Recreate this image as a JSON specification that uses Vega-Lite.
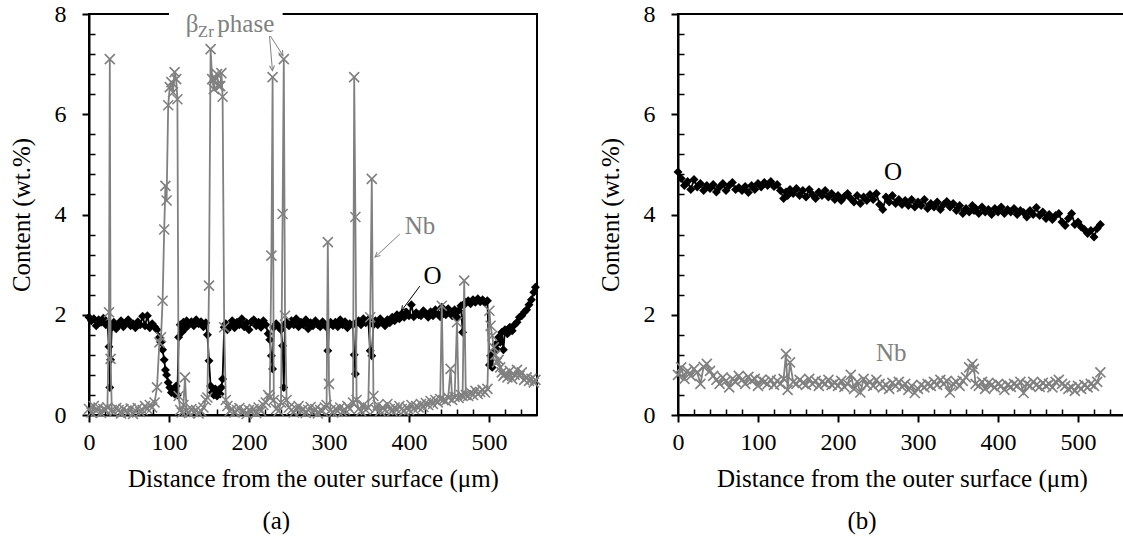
{
  "$schema": "https://vega.github.io/schema/vega-lite/v6.json",
  "background": "white",
  "padding": {"left": 8, "top": 1, "right": 0, "bottom": 0},
  "config": {
    "font": "Liberation Serif, Times New Roman, serif",
    "axis": {"labelFont": "Liberation Serif, Times New Roman, serif", "titleFont": "Liberation Serif, Times New Roman, serif"},
    "text": {"font": "Liberation Serif, Times New Roman, serif"},
    "view": {"stroke": "black", "strokeWidth": 2},
    "title": {"font": "Liberation Serif, Times New Roman, serif", "fontSize": 25, "fontWeight": "normal", "color": "black"}
  },
  "spacing": 52,
  "datasets": {
    "a": [
      {"d":0,"O":1.95,"Nb":0.12},{"d":3,"O":1.88,"Nb":0.05},{"d":6,"O":1.92,"Nb":0.18},{"d":9,"O":1.78,"Nb":0.08},{"d":12,"O":1.9,"Nb":0.15},{"d":15,"O":1.85,"Nb":0.04},{"d":18,"O":1.93,"Nb":0.12},{"d":21,"O":1.8,"Nb":0.1},{"d":23,"O":1.82,"Nb":0.15},{"d":25,"O":1.36,"Nb":2.05},{"d":26,"O":0.55,"Nb":7.1},{"d":27,"O":1.1,"Nb":1.12},{"d":28.5,"O":1.75,"Nb":0.1},
      {"d":31,"O":1.85,"Nb":0.06},{"d":34,"O":1.72,"Nb":0.14},{"d":37,"O":1.8,"Nb":0.1},{"d":40,"O":1.88,"Nb":0.03},{"d":43,"O":1.76,"Nb":0.12},{"d":46,"O":1.84,"Nb":0.08},{"d":49,"O":1.9,"Nb":0.05},{"d":52,"O":1.78,"Nb":0.13},{"d":55,"O":1.82,"Nb":0.02},{"d":58,"O":1.74,"Nb":0.09},{"d":61,"O":1.86,"Nb":0.14},{"d":64,"O":1.8,"Nb":0.06},{"d":67,"O":1.97,"Nb":0.1},{"d":70,"O":1.78,"Nb":0.18},{"d":73,"O":1.98,"Nb":0.12},{"d":76,"O":1.74,"Nb":0.2},{"d":79,"O":1.82,"Nb":0.15},{"d":82,"O":1.76,"Nb":0.25},
      {"d":85,"O":1.7,"Nb":0.55},{"d":88,"O":1.55,"Nb":1.45},{"d":90,"O":1.45,"Nb":1.55},{"d":92,"O":1.3,"Nb":2.28},{"d":94,"O":1.1,"Nb":3.7},{"d":95.5,"O":0.9,"Nb":4.57},{"d":97,"O":0.8,"Nb":4.28},{"d":99,"O":0.65,"Nb":6.18},{"d":101,"O":0.55,"Nb":6.54},{"d":103,"O":0.45,"Nb":6.64},{"d":105,"O":0.5,"Nb":6.44},{"d":107,"O":0.42,"Nb":6.84},{"d":109,"O":0.58,"Nb":6.7},{"d":110.5,"O":0.4,"Nb":6.3},{"d":112,"O":1.55,"Nb":0.38},
      {"d":114,"O":1.8,"Nb":0.1},{"d":116,"O":1.65,"Nb":0.05},{"d":118,"O":1.85,"Nb":0.2},{"d":120,"O":1.72,"Nb":0.75},{"d":122,"O":1.88,"Nb":0.08},{"d":125,"O":1.8,"Nb":0.04},{"d":128,"O":1.86,"Nb":0.12},{"d":131,"O":1.78,"Nb":0.06},{"d":134,"O":1.9,"Nb":0.1},{"d":137,"O":1.82,"Nb":0.03},{"d":140,"O":1.86,"Nb":0.08},{"d":143,"O":1.76,"Nb":0.15},{"d":146,"O":1.84,"Nb":0.3},{"d":148,"O":1.6,"Nb":0.35},
      {"d":150,"O":1.08,"Nb":2.58},{"d":152,"O":0.58,"Nb":7.3},{"d":154,"O":0.45,"Nb":6.7},{"d":156,"O":0.4,"Nb":6.5},{"d":158,"O":0.52,"Nb":6.72},{"d":160,"O":0.38,"Nb":6.8},{"d":162,"O":0.5,"Nb":6.56},{"d":164,"O":0.42,"Nb":6.56},{"d":165.5,"O":0.55,"Nb":6.82},{"d":167,"O":0.72,"Nb":6.35},{"d":169,"O":1.75,"Nb":1.75},
      {"d":171,"O":1.82,"Nb":0.3},{"d":173,"O":1.7,"Nb":0.18},{"d":176,"O":1.78,"Nb":0.08},{"d":179,"O":1.88,"Nb":0.12},{"d":182,"O":1.74,"Nb":0.05},{"d":185,"O":1.85,"Nb":0.1},{"d":188,"O":1.8,"Nb":0.14},{"d":191,"O":1.92,"Nb":0.06},{"d":194,"O":1.76,"Nb":0.09},{"d":197,"O":1.84,"Nb":0.02},{"d":200,"O":1.7,"Nb":0.1},{"d":203,"O":1.86,"Nb":0.07},{"d":206,"O":1.9,"Nb":0.12},{"d":209,"O":1.78,"Nb":0.04},{"d":212,"O":1.85,"Nb":0.15},{"d":215,"O":1.75,"Nb":0.08},{"d":218,"O":1.88,"Nb":0.2},{"d":221,"O":1.8,"Nb":0.25},{"d":224,"O":1.62,"Nb":0.4},
      {"d":226,"O":1.5,"Nb":0.35},{"d":228,"O":1.18,"Nb":3.18},{"d":229.5,"O":0.92,"Nb":6.74},{"d":231,"O":1.75,"Nb":0.3},{"d":234,"O":1.82,"Nb":0.12},{"d":237,"O":1.76,"Nb":0.08},{"d":240,"O":1.7,"Nb":0.25},{"d":242,"O":1.38,"Nb":4.01},{"d":243.5,"O":0.55,"Nb":7.1},{"d":245,"O":1.8,"Nb":1.98},{"d":247,"O":1.85,"Nb":0.3},
      {"d":250,"O":1.78,"Nb":0.15},{"d":253,"O":1.88,"Nb":0.1},{"d":256,"O":1.8,"Nb":0.05},{"d":259,"O":1.92,"Nb":0.12},{"d":262,"O":1.76,"Nb":0.18},{"d":265,"O":1.85,"Nb":0.08},{"d":268,"O":1.8,"Nb":0.12},{"d":271,"O":1.9,"Nb":0.04},{"d":274,"O":1.72,"Nb":0.1},{"d":277,"O":1.84,"Nb":0.16},{"d":280,"O":1.78,"Nb":0.06},{"d":283,"O":1.88,"Nb":0.12},{"d":286,"O":1.8,"Nb":0.03},{"d":289,"O":1.76,"Nb":0.1},{"d":292,"O":1.86,"Nb":0.08},{"d":295,"O":1.8,"Nb":0.15},
      {"d":297,"O":1.75,"Nb":0.2},{"d":298.5,"O":1.28,"Nb":3.45},{"d":300,"O":1.8,"Nb":0.62},{"d":302,"O":1.85,"Nb":0.1},{"d":305,"O":1.78,"Nb":0.05},{"d":308,"O":1.85,"Nb":0.12},{"d":311,"O":1.76,"Nb":0.08},{"d":314,"O":1.9,"Nb":0.15},{"d":317,"O":1.8,"Nb":0.06},{"d":320,"O":1.86,"Nb":0.1},{"d":323,"O":1.74,"Nb":0.18},{"d":326,"O":1.82,"Nb":0.12},
      {"d":330,"O":1.8,"Nb":0.25},{"d":331.5,"O":1.2,"Nb":6.74},{"d":333,"O":0.82,"Nb":3.95},{"d":334.5,"O":1.85,"Nb":0.3},{"d":337,"O":1.88,"Nb":0.12},{"d":340,"O":1.8,"Nb":0.08},{"d":343,"O":1.92,"Nb":0.2},{"d":346,"O":1.84,"Nb":0.1},{"d":349,"O":1.9,"Nb":0.15},{"d":351.5,"O":1.28,"Nb":1.95},{"d":353.5,"O":1.18,"Nb":4.71},{"d":355.5,"O":1.8,"Nb":0.38},
      {"d":358,"O":1.88,"Nb":0.12},{"d":361,"O":1.8,"Nb":0.2},{"d":364,"O":1.92,"Nb":0.08},{"d":367,"O":1.85,"Nb":0.15},{"d":370,"O":1.78,"Nb":0.1},{"d":373,"O":1.9,"Nb":0.22},{"d":376,"O":1.84,"Nb":0.12},{"d":379,"O":1.95,"Nb":0.08},{"d":382,"O":1.88,"Nb":0.15},{"d":385,"O":2.0,"Nb":0.1},{"d":388,"O":1.92,"Nb":0.18},{"d":391,"O":2.02,"Nb":0.12},{"d":394,"O":1.95,"Nb":0.08},{"d":397,"O":2.05,"Nb":0.15},{"d":400,"O":1.98,"Nb":0.1},{"d":403,"O":2.2,"Nb":0.2},{"d":406,"O":1.96,"Nb":0.12},{"d":409,"O":2.04,"Nb":0.18},{"d":412,"O":2.0,"Nb":0.15},{"d":415,"O":1.98,"Nb":0.22},{"d":418,"O":2.08,"Nb":0.16},{"d":421,"O":2.02,"Nb":0.24},{"d":424,"O":1.95,"Nb":0.2},{"d":427,"O":2.06,"Nb":0.28},{"d":430,"O":1.98,"Nb":0.22},{"d":433,"O":2.1,"Nb":0.3},{"d":436,"O":2.02,"Nb":0.25},{"d":439,"O":1.96,"Nb":0.32},
      {"d":441,"O":2.15,"Nb":2.18},{"d":443,"O":2.05,"Nb":0.3},{"d":446,"O":2.0,"Nb":0.28},{"d":449,"O":2.12,"Nb":0.35},{"d":452,"O":2.05,"Nb":0.92},{"d":454,"O":1.98,"Nb":0.3},{"d":457,"O":2.1,"Nb":0.36},{"d":460,"O":1.95,"Nb":1.85},{"d":462,"O":2.08,"Nb":0.34},{"d":465,"O":2.18,"Nb":0.4},{"d":467,"O":1.65,"Nb":0.38},{"d":469,"O":2.2,"Nb":2.68},{"d":471,"O":2.25,"Nb":0.4},
      {"d":474,"O":2.28,"Nb":0.38},{"d":477,"O":2.22,"Nb":0.45},{"d":480,"O":2.3,"Nb":0.4},{"d":483,"O":2.25,"Nb":0.48},{"d":486,"O":2.32,"Nb":0.42},{"d":489,"O":2.26,"Nb":0.46},{"d":492,"O":2.3,"Nb":0.5},{"d":495,"O":2.24,"Nb":0.45},{"d":498,"O":2.28,"Nb":0.52},
      {"d":500.5,"O":1.0,"Nb":2.08},{"d":502,"O":1.18,"Nb":1.78},{"d":504,"O":0.95,"Nb":1.58},{"d":506,"O":1.25,"Nb":1.35},{"d":508,"O":1.4,"Nb":1.2},{"d":510,"O":1.3,"Nb":1.05},{"d":512,"O":1.55,"Nb":1.1},{"d":514,"O":1.45,"Nb":0.95},{"d":516,"O":1.65,"Nb":0.85},{"d":518,"O":1.3,"Nb":0.78},{"d":520,"O":1.7,"Nb":0.82},{"d":523,"O":1.62,"Nb":0.75},{"d":526,"O":1.75,"Nb":0.88},{"d":529,"O":1.68,"Nb":0.72},{"d":532,"O":1.8,"Nb":0.8},{"d":535,"O":1.85,"Nb":0.9},{"d":538,"O":1.95,"Nb":0.78},{"d":541,"O":1.98,"Nb":0.85},{"d":544,"O":2.05,"Nb":0.7},{"d":547,"O":2.1,"Nb":0.75},{"d":550,"O":2.2,"Nb":0.68},{"d":553,"O":2.3,"Nb":0.72},{"d":556,"O":2.45,"Nb":0.65},{"d":558,"O":2.55,"Nb":0.7}
    ],
    "b": [
      {"d":0,"O":4.85,"Nb":0.8},{"d":4,"O":4.72,"Nb":0.95},{"d":8,"O":4.58,"Nb":0.72},{"d":12,"O":4.66,"Nb":0.88},{"d":16,"O":4.5,"Nb":0.78},{"d":20,"O":4.7,"Nb":0.92},{"d":24,"O":4.55,"Nb":0.85},{"d":28,"O":4.62,"Nb":0.62},{"d":32,"O":4.48,"Nb":0.96},{"d":36,"O":4.58,"Nb":1.02},{"d":40,"O":4.52,"Nb":0.88},{"d":44,"O":4.6,"Nb":0.78},{"d":48,"O":4.45,"Nb":0.7},{"d":52,"O":4.55,"Nb":0.62},{"d":56,"O":4.62,"Nb":0.75},{"d":60,"O":4.48,"Nb":0.68},{"d":64,"O":4.58,"Nb":0.55},{"d":68,"O":4.64,"Nb":0.72},{"d":72,"O":4.5,"Nb":0.66},{"d":76,"O":4.54,"Nb":0.78},{"d":80,"O":4.48,"Nb":0.7},{"d":84,"O":4.56,"Nb":0.62},{"d":88,"O":4.44,"Nb":0.76},{"d":92,"O":4.58,"Nb":0.68},{"d":96,"O":4.5,"Nb":0.72},{"d":100,"O":4.62,"Nb":0.58},{"d":104,"O":4.55,"Nb":0.7},{"d":108,"O":4.64,"Nb":0.66},{"d":112,"O":4.58,"Nb":0.62},{"d":116,"O":4.66,"Nb":0.7},{"d":120,"O":4.56,"Nb":0.6},{"d":124,"O":4.6,"Nb":0.68},{"d":128,"O":4.48,"Nb":0.62},{"d":132,"O":4.32,"Nb":0.72},{"d":135,"O":4.45,"Nb":1.22},{"d":137,"O":4.38,"Nb":0.5},{"d":140,"O":4.5,"Nb":1.05},{"d":144,"O":4.42,"Nb":0.66},{"d":148,"O":4.52,"Nb":0.62},{"d":152,"O":4.38,"Nb":0.7},{"d":156,"O":4.48,"Nb":0.64},{"d":160,"O":4.35,"Nb":0.6},{"d":164,"O":4.5,"Nb":0.72},{"d":168,"O":4.4,"Nb":0.62},{"d":172,"O":4.32,"Nb":0.68},{"d":176,"O":4.45,"Nb":0.58},{"d":180,"O":4.38,"Nb":0.66},{"d":184,"O":4.48,"Nb":0.62},{"d":188,"O":4.35,"Nb":0.7},{"d":192,"O":4.42,"Nb":0.6},{"d":196,"O":4.3,"Nb":0.64},{"d":200,"O":4.38,"Nb":0.58},{"d":204,"O":4.28,"Nb":0.68},{"d":208,"O":4.36,"Nb":0.56},{"d":212,"O":4.42,"Nb":0.62},{"d":216,"O":4.32,"Nb":0.8},{"d":220,"O":4.25,"Nb":0.52},{"d":224,"O":4.38,"Nb":0.66},{"d":228,"O":4.22,"Nb":0.45},{"d":232,"O":4.35,"Nb":0.72},{"d":236,"O":4.28,"Nb":0.6},{"d":240,"O":4.4,"Nb":0.66},{"d":244,"O":4.3,"Nb":0.58},{"d":248,"O":4.42,"Nb":0.7},{"d":252,"O":4.2,"Nb":0.62},{"d":256,"O":4.1,"Nb":0.55},{"d":260,"O":4.35,"Nb":0.6},{"d":264,"O":4.25,"Nb":0.52},{"d":268,"O":4.38,"Nb":0.64},{"d":272,"O":4.22,"Nb":0.58},{"d":276,"O":4.3,"Nb":0.66},{"d":280,"O":4.2,"Nb":0.56},{"d":284,"O":4.28,"Nb":0.62},{"d":288,"O":4.18,"Nb":0.5},{"d":292,"O":4.3,"Nb":0.58},{"d":296,"O":4.15,"Nb":0.44},{"d":300,"O":4.25,"Nb":0.52},{"d":304,"O":4.18,"Nb":0.6},{"d":308,"O":4.3,"Nb":0.55},{"d":312,"O":4.12,"Nb":0.62},{"d":316,"O":4.22,"Nb":0.58},{"d":320,"O":4.15,"Nb":0.66},{"d":324,"O":4.25,"Nb":0.6},{"d":328,"O":4.1,"Nb":0.7},{"d":332,"O":4.2,"Nb":0.62},{"d":336,"O":4.26,"Nb":0.68},{"d":340,"O":4.15,"Nb":0.45},{"d":344,"O":4.22,"Nb":0.62},{"d":348,"O":4.08,"Nb":0.66},{"d":352,"O":4.18,"Nb":0.58},{"d":356,"O":4.02,"Nb":0.68},{"d":360,"O":4.12,"Nb":0.75},{"d":364,"O":4.05,"Nb":0.95},{"d":368,"O":4.18,"Nb":1.02},{"d":370,"O":4.08,"Nb":0.92},{"d":372,"O":4.12,"Nb":0.62},{"d":376,"O":4.02,"Nb":0.58},{"d":380,"O":4.15,"Nb":0.66},{"d":384,"O":4.05,"Nb":0.52},{"d":388,"O":4.1,"Nb":0.64},{"d":392,"O":4.0,"Nb":0.6},{"d":396,"O":4.12,"Nb":0.55},{"d":400,"O":4.05,"Nb":0.62},{"d":404,"O":4.15,"Nb":0.58},{"d":408,"O":4.02,"Nb":0.5},{"d":412,"O":4.1,"Nb":0.6},{"d":416,"O":4.05,"Nb":0.56},{"d":420,"O":4.12,"Nb":0.62},{"d":424,"O":4.0,"Nb":0.58},{"d":428,"O":4.08,"Nb":0.66},{"d":432,"O":4.04,"Nb":0.44},{"d":436,"O":3.95,"Nb":0.62},{"d":440,"O":4.08,"Nb":0.58},{"d":444,"O":4.0,"Nb":0.66},{"d":448,"O":4.14,"Nb":0.6},{"d":452,"O":3.98,"Nb":0.56},{"d":456,"O":4.05,"Nb":0.64},{"d":460,"O":3.92,"Nb":0.58},{"d":464,"O":4.0,"Nb":0.62},{"d":468,"O":3.9,"Nb":0.55},{"d":472,"O":3.98,"Nb":0.66},{"d":476,"O":4.02,"Nb":0.7},{"d":480,"O":3.85,"Nb":0.62},{"d":484,"O":3.78,"Nb":0.58},{"d":488,"O":3.92,"Nb":0.52},{"d":492,"O":4.02,"Nb":0.55},{"d":496,"O":3.8,"Nb":0.48},{"d":500,"O":3.85,"Nb":0.58},{"d":504,"O":3.75,"Nb":0.52},{"d":508,"O":3.7,"Nb":0.6},{"d":512,"O":3.62,"Nb":0.55},{"d":516,"O":3.68,"Nb":0.62},{"d":520,"O":3.55,"Nb":0.58},{"d":524,"O":3.72,"Nb":0.66},{"d":528,"O":3.8,"Nb":0.85}
    ]
  },
  "hconcat": [
    {
      "width": 448,
      "height": 401,
      "title": {"text": "(a)", "orient": "bottom", "frame": "bounds", "anchor": "middle", "offset": 18},
      "resolve": {"axis": {"x": "independent", "y": "independent"}},
      "layer": [
        {
          "data": {"name": "a"},
          "mark": {"type": "line", "color": "black", "strokeWidth": 1.8},
          "encoding": {
            "x": {"field": "d", "type": "quantitative", "scale": {"domain": [0, 560], "nice": false},
              "axis": {"values": [0,100,200,300,400,500], "tickSize": 7, "tickWidth": 2, "tickColor": "black", "domainColor": "black", "domainWidth": 2, "labelFontSize": 24, "labelColor": "black", "labelPadding": 8, "labelFlush": false, "grid": false, "title": "Distance from the outer surface (μm)", "titleFontSize": 25, "titleFontWeight": "normal", "titleColor": "black", "titlePadding": 12}},
            "y": {"field": "O", "type": "quantitative", "scale": {"domain": [0, 8], "nice": false},
              "axis": {"values": [0,2,4,6,8], "tickSize": 7, "tickWidth": 2, "tickColor": "black", "domainColor": "black", "domainWidth": 2, "labelFontSize": 24, "labelColor": "black", "labelPadding": 16, "labelFlush": false, "grid": false, "title": "Content (wt.%)", "titleFontSize": 25, "titleFontWeight": "normal", "titleColor": "black", "titlePadding": 20}}
          }
        },
        {
          "data": {"name": "a"},
          "mark": {"type": "point", "shape": "diamond", "filled": true, "color": "black", "size": 80, "opacity": 1},
          "encoding": {
            "x": {"field": "d", "type": "quantitative", "scale": {"domain": [0, 560], "nice": false},
              "axis": {"orient": "bottom", "values": [20,40,60,80,120,140,160,180,220,240,260,280,320,340,360,380,420,440,460,480,520,540], "tickSize": -6, "tickWidth": 1.5, "tickColor": "black", "labels": false, "domain": false, "grid": false, "title": null}},
            "y": {"field": "O", "type": "quantitative", "scale": {"domain": [0, 8], "nice": false},
              "axis": {"orient": "left", "values": [0.4,0.8,1.2,1.6,2.4,2.8,3.2,3.6,4.4,4.8,5.2,5.6,6.4,6.8,7.2,7.6], "tickSize": -6, "tickWidth": 1.5, "tickColor": "black", "labels": false, "domain": false, "grid": false, "title": null}}
          }
        },
        {
          "data": {"name": "a"},
          "mark": {"type": "line", "color": "#808080", "strokeWidth": 1.8},
          "encoding": {
            "x": {"field": "d", "type": "quantitative", "scale": {"domain": [0, 560], "nice": false}, "axis": null},
            "y": {"field": "Nb", "type": "quantitative", "scale": {"domain": [0, 8], "nice": false}, "axis": null}
          }
        },
        {
          "data": {"name": "a"},
          "mark": {"type": "point", "shape": "M-1,-1L1,1M-1,1L1,-1", "filled": false, "color": "#808080", "strokeWidth": 1.6, "size": 100, "opacity": 1},
          "encoding": {
            "x": {"field": "d", "type": "quantitative", "scale": {"domain": [0, 560], "nice": false}, "axis": null},
            "y": {"field": "Nb", "type": "quantitative", "scale": {"domain": [0, 8], "nice": false}, "axis": null}
          }
        },
        {
          "data": {"values": [{"x": 100, "x2": 242, "y": 7.85, "y2": 8.15}]},
          "mark": {"type": "rect", "color": "white"},
          "encoding": {
            "x": {"field": "x", "type": "quantitative", "scale": {"domain": [0, 560], "nice": false}, "axis": null},
            "x2": {"field": "x2"},
            "y": {"field": "y", "type": "quantitative", "scale": {"domain": [0, 8], "nice": false}, "axis": null},
            "y2": {"field": "y2"}
          }
        },
        {
          "data": {"values": [{"x": 121, "y": 7.645, "t": "β"}, {"x": 160.4, "y": 7.645, "t": "phase"}, {"x": 394.7, "y": 3.61, "t": "Nb"}]},
          "mark": {"type": "text", "align": "left", "baseline": "alphabetic", "fontSize": 25, "color": "#808080", "font": "Liberation Serif, Times New Roman, serif"},
          "encoding": {
            "x": {"field": "x", "type": "quantitative", "scale": {"domain": [0, 560], "nice": false}, "axis": null},
            "y": {"field": "y", "type": "quantitative", "scale": {"domain": [0, 8], "nice": false}, "axis": null},
            "text": {"field": "t"}
          }
        },
        {
          "data": {"values": [{"x": 136, "y": 7.545, "t": "Zr"}]},
          "mark": {"type": "text", "align": "left", "baseline": "alphabetic", "fontSize": 17, "color": "#808080", "font": "Liberation Serif, Times New Roman, serif"},
          "encoding": {
            "x": {"field": "x", "type": "quantitative", "scale": {"domain": [0, 560], "nice": false}, "axis": null},
            "y": {"field": "y", "type": "quantitative", "scale": {"domain": [0, 8], "nice": false}, "axis": null},
            "text": {"field": "t"}
          }
        },
        {
          "data": {"values": [{"x": 418, "y": 2.62, "t": "O"}]},
          "mark": {"type": "text", "align": "left", "baseline": "alphabetic", "fontSize": 25, "color": "black", "font": "Liberation Serif, Times New Roman, serif"},
          "encoding": {
            "x": {"field": "x", "type": "quantitative", "scale": {"domain": [0, 560], "nice": false}, "axis": null},
            "y": {"field": "y", "type": "quantitative", "scale": {"domain": [0, 8], "nice": false}, "axis": null},
            "text": {"field": "t"}
          }
        },
        {
          "data": {"values": [{"x": 225.6, "y": 7.56, "x2": 229.3, "y2": 6.87}, {"x": 226.8, "y": 7.56, "x2": 242.5, "y2": 7.17}, {"x": 388.5, "y": 3.61, "x2": 357.6, "y2": 3.15}]},
          "mark": {"type": "rule", "color": "#808080", "strokeWidth": 1},
          "encoding": {
            "x": {"field": "x", "type": "quantitative", "scale": {"domain": [0, 560], "nice": false}, "axis": null},
            "y": {"field": "y", "type": "quantitative", "scale": {"domain": [0, 8], "nice": false}, "axis": null},
            "x2": {"field": "x2"},
            "y2": {"field": "y2"}
          }
        },
        {
          "data": {"values": [{"x": 413.5, "y": 2.57, "x2": 390.6, "y2": 2.08}]},
          "mark": {"type": "rule", "color": "black", "strokeWidth": 1},
          "encoding": {
            "x": {"field": "x", "type": "quantitative", "scale": {"domain": [0, 560], "nice": false}, "axis": null},
            "y": {"field": "y", "type": "quantitative", "scale": {"domain": [0, 8], "nice": false}, "axis": null},
            "x2": {"field": "x2"},
            "y2": {"field": "y2"}
          }
        },
        {
          "data": {"values": [{"x": 229.3, "y": 6.87}]},
          "mark": {"type": "point", "shape": "M-0.5,-1L0,0L0.5,-1", "filled": false, "color": "#808080", "strokeWidth": 1, "size": 100, "angle": -5, "opacity": 1},
          "encoding": {
            "x": {"field": "x", "type": "quantitative", "scale": {"domain": [0, 560], "nice": false}, "axis": null},
            "y": {"field": "y", "type": "quantitative", "scale": {"domain": [0, 8], "nice": false}, "axis": null}
          }
        },
        {
          "data": {"values": [{"x": 242.5, "y": 7.17}]},
          "mark": {"type": "point", "shape": "M-0.5,-1L0,0L0.5,-1", "filled": false, "color": "#808080", "strokeWidth": 1, "size": 100, "angle": -32, "opacity": 1},
          "encoding": {
            "x": {"field": "x", "type": "quantitative", "scale": {"domain": [0, 560], "nice": false}, "axis": null},
            "y": {"field": "y", "type": "quantitative", "scale": {"domain": [0, 8], "nice": false}, "axis": null}
          }
        },
        {
          "data": {"values": [{"x": 357.6, "y": 3.15}]},
          "mark": {"type": "point", "shape": "M-0.5,-1L0,0L0.5,-1", "filled": false, "color": "#808080", "strokeWidth": 1, "size": 100, "angle": 47, "opacity": 1},
          "encoding": {
            "x": {"field": "x", "type": "quantitative", "scale": {"domain": [0, 560], "nice": false}, "axis": null},
            "y": {"field": "y", "type": "quantitative", "scale": {"domain": [0, 8], "nice": false}, "axis": null}
          }
        },
        {
          "data": {"values": [{"x": 390.6, "y": 2.08}]},
          "mark": {"type": "point", "shape": "M-0.5,-1L0,0L0.5,-1", "filled": false, "color": "black", "strokeWidth": 1, "size": 100, "angle": 36.5, "opacity": 1},
          "encoding": {
            "x": {"field": "x", "type": "quantitative", "scale": {"domain": [0, 560], "nice": false}, "axis": null},
            "y": {"field": "y", "type": "quantitative", "scale": {"domain": [0, 8], "nice": false}, "axis": null}
          }
        }
      ]
    },
    {
      "width": 448,
      "height": 401,
      "title": {"text": "(b)", "orient": "bottom", "frame": "bounds", "anchor": "middle", "offset": 18},
      "resolve": {"axis": {"x": "independent", "y": "independent"}},
      "layer": [
        {
          "data": {"name": "b"},
          "mark": {"type": "line", "color": "black", "strokeWidth": 1.8},
          "encoding": {
            "x": {"field": "d", "type": "quantitative", "scale": {"domain": [0, 560], "nice": false},
              "axis": {"values": [0,100,200,300,400,500], "tickSize": 7, "tickWidth": 2, "tickColor": "black", "domainColor": "black", "domainWidth": 2, "labelFontSize": 24, "labelColor": "black", "labelPadding": 8, "labelFlush": false, "grid": false, "title": "Distance from the outer surface (μm)", "titleFontSize": 25, "titleFontWeight": "normal", "titleColor": "black", "titlePadding": 12}},
            "y": {"field": "O", "type": "quantitative", "scale": {"domain": [0, 8], "nice": false},
              "axis": {"values": [0,2,4,6,8], "tickSize": 7, "tickWidth": 2, "tickColor": "black", "domainColor": "black", "domainWidth": 2, "labelFontSize": 24, "labelColor": "black", "labelPadding": 16, "labelFlush": false, "grid": false, "title": "Content (wt.%)", "titleFontSize": 25, "titleFontWeight": "normal", "titleColor": "black", "titlePadding": 20}}
          }
        },
        {
          "data": {"name": "b"},
          "mark": {"type": "point", "shape": "diamond", "filled": true, "color": "black", "size": 80, "opacity": 1},
          "encoding": {
            "x": {"field": "d", "type": "quantitative", "scale": {"domain": [0, 560], "nice": false},
              "axis": {"orient": "bottom", "values": [20,40,60,80,120,140,160,180,220,240,260,280,320,340,360,380,420,440,460,480,520,540], "tickSize": -6, "tickWidth": 1.5, "tickColor": "black", "labels": false, "domain": false, "grid": false, "title": null}},
            "y": {"field": "O", "type": "quantitative", "scale": {"domain": [0, 8], "nice": false},
              "axis": {"orient": "left", "values": [0.4,0.8,1.2,1.6,2.4,2.8,3.2,3.6,4.4,4.8,5.2,5.6,6.4,6.8,7.2,7.6], "tickSize": -6, "tickWidth": 1.5, "tickColor": "black", "labels": false, "domain": false, "grid": false, "title": null}}
          }
        },
        {
          "data": {"name": "b"},
          "mark": {"type": "line", "color": "#808080", "strokeWidth": 1.8},
          "encoding": {
            "x": {"field": "d", "type": "quantitative", "scale": {"domain": [0, 560], "nice": false}, "axis": null},
            "y": {"field": "Nb", "type": "quantitative", "scale": {"domain": [0, 8], "nice": false}, "axis": null}
          }
        },
        {
          "data": {"name": "b"},
          "mark": {"type": "point", "shape": "M-1,-1L1,1M-1,1L1,-1", "filled": false, "color": "#808080", "strokeWidth": 1.6, "size": 100, "opacity": 1},
          "encoding": {
            "x": {"field": "d", "type": "quantitative", "scale": {"domain": [0, 560], "nice": false}, "axis": null},
            "y": {"field": "Nb", "type": "quantitative", "scale": {"domain": [0, 8], "nice": false}, "axis": null}
          }
        },
        {
          "data": {"values": [{"x": 257.5, "y": 4.69, "t": "O"}]},
          "mark": {"type": "text", "align": "left", "baseline": "alphabetic", "fontSize": 25, "color": "black", "font": "Liberation Serif, Times New Roman, serif"},
          "encoding": {
            "x": {"field": "x", "type": "quantitative", "scale": {"domain": [0, 560], "nice": false}, "axis": null},
            "y": {"field": "y", "type": "quantitative", "scale": {"domain": [0, 8], "nice": false}, "axis": null},
            "text": {"field": "t"}
          }
        },
        {
          "data": {"values": [{"x": 247.5, "y": 1.08, "t": "Nb"}]},
          "mark": {"type": "text", "align": "left", "baseline": "alphabetic", "fontSize": 25, "color": "#808080", "font": "Liberation Serif, Times New Roman, serif"},
          "encoding": {
            "x": {"field": "x", "type": "quantitative", "scale": {"domain": [0, 560], "nice": false}, "axis": null},
            "y": {"field": "y", "type": "quantitative", "scale": {"domain": [0, 8], "nice": false}, "axis": null},
            "text": {"field": "t"}
          }
        }
      ]
    }
  ]
}
